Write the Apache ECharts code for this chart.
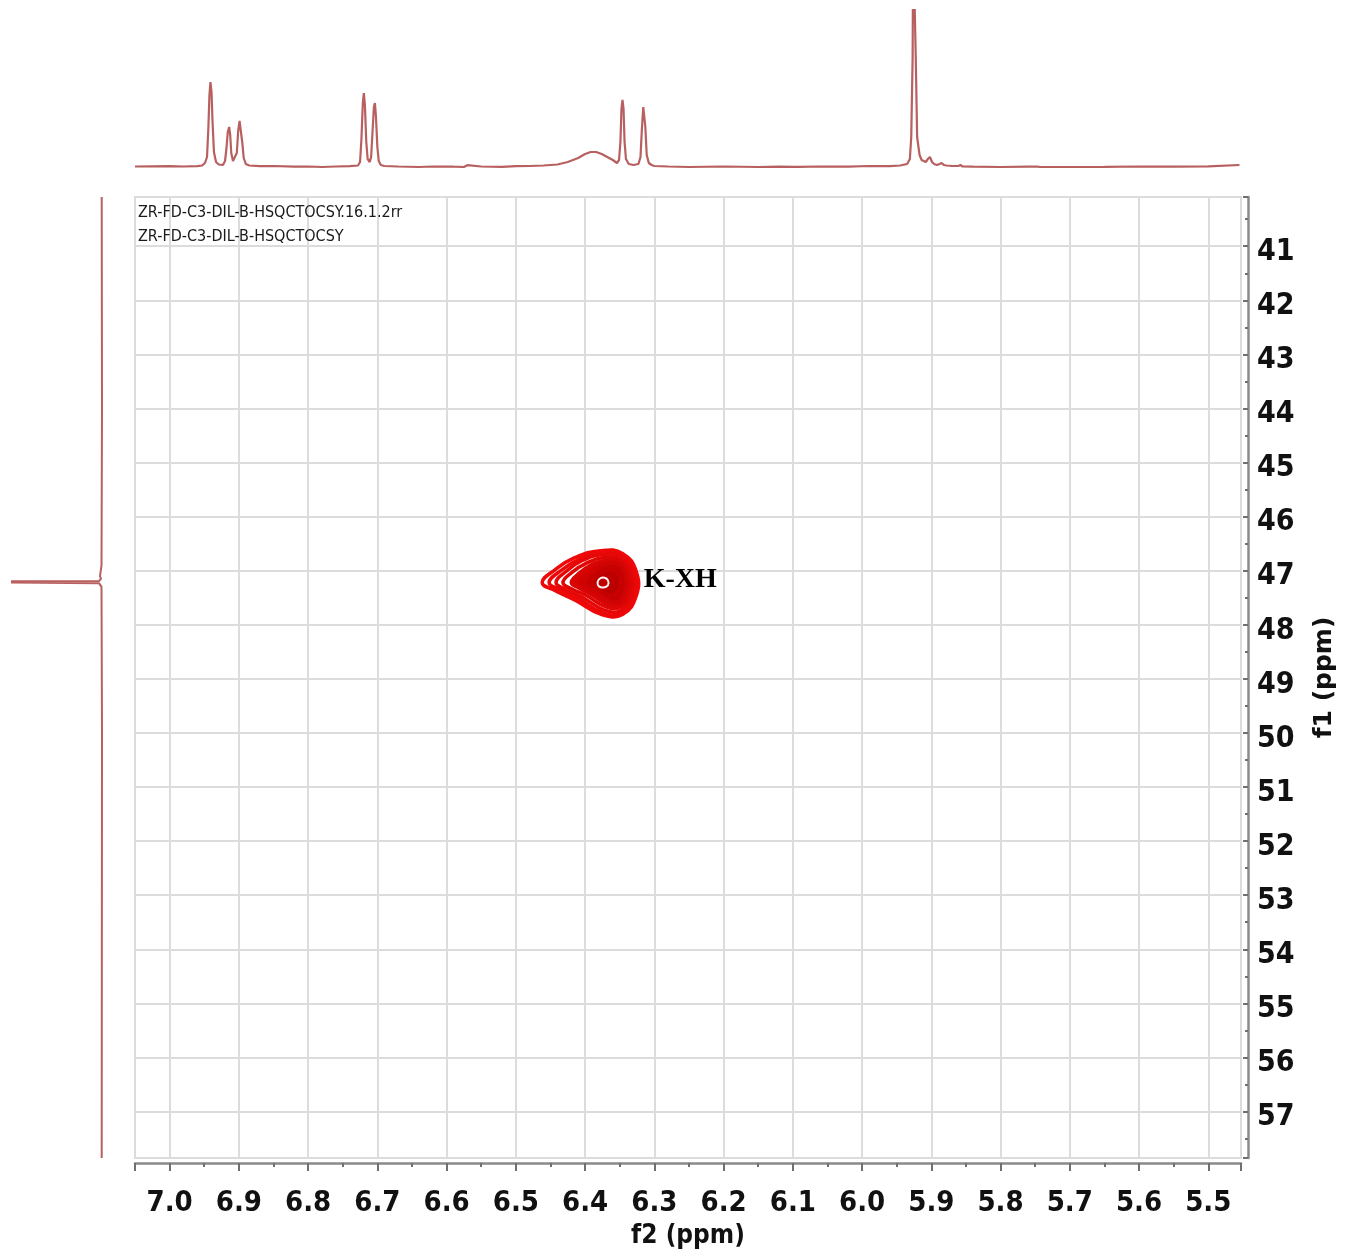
<!DOCTYPE html>
<html>
<head>
<meta charset="utf-8">
<title>HSQC-TOCSY</title>
<script src="https://cdn.jsdelivr.net/npm/echarts@6/dist/echarts.min.js"></script>
<style>
  html, body { margin: 0; padding: 0; background: #ffffff; }
  #chart { width: 1353px; height: 1253px; }
</style>
</head>
<body>
<div id="chart"></div>
<script>
// ---- axis ranges (ppm) ----
const f2Range = [5.4528, 7.05];   // 1H, drawn right-to-left
const f1Range = [40.09, 57.86];   // 13C, drawn top-to-bottom

// ---- dataset names printed in the plot corner ----
const dataNames = ['ZR-FD-C3-DIL-B-HSQCTOCSY.16.1.2rr', 'ZR-FD-C3-DIL-B-HSQCTOCSY'];

// ---- 1H projection trace: [ppm, intensity] ----
const protonTrace = [
  [7.050,0.5],[7.000,0.8],[6.980,0.5],[6.960,0.8],[6.953,1.5],[6.949,4],[6.946,10],[6.944,40],
  [6.9425,72],[6.941,85],[6.9395,75],[6.938,45],[6.936,15],[6.933,5],[6.929,2.5],[6.923,2],
  [6.920,6],[6.918,18],[6.916,35],[6.914,40],[6.9125,32],[6.911,14],[6.9085,6],[6.906,6],
  [6.903,14],[6.901,36],[6.899,46],[6.897,44],[6.895,24],[6.893,9],[6.890,3],[6.885,1.5],
  [6.870,0.8],[6.850,1],[6.820,0.3],[6.800,0.5],[6.780,0],[6.760,0.5],[6.740,0.8],[6.728,1.5],
  [6.725,5],[6.723,28],[6.721,64],[6.7195,74],[6.718,62],[6.716,25],[6.714,8],[6.711,5],
  [6.709,10],[6.707,35],[6.705,60],[6.7035,64],[6.702,50],[6.700,20],[6.698,6],[6.695,2],
  [6.690,1],[6.670,0.5],[6.640,0],[6.620,0.5],[6.600,0.3],[6.594,0.5],[6.592,2],[6.590,0.3],
  [6.575,0],[6.570,1.8],[6.568,0],[6.550,0.5],[6.520,0.2],[6.500,0.8],[6.480,1],[6.460,1.5],
  [6.440,2.5],[6.425,5],[6.410,9],[6.400,13],[6.392,15],[6.384,15],[6.376,13],[6.368,10],
  [6.360,7],[6.354,4],[6.351,7],[6.349,25],[6.3475,58],[6.346,67],[6.3445,58],[6.343,25],
  [6.341,8],[6.337,3],[6.330,2],[6.323,3],[6.320,10],[6.318,38],[6.316,60],[6.3145,62],
  [6.313,40],[6.311,12],[6.308,4],[6.304,2],[6.300,1],[6.280,0.5],[6.250,0],[6.200,0.5],
  [6.150,0],[6.120,0.3],[6.096,0.2],[6.094,1.8],[6.092,0.2],[6.060,0.5],[6.020,0.3],[5.990,1],
  [5.960,0.8],[5.945,1.5],[5.935,3],[5.931,8],[5.929,30],[5.927,110],[5.9262,230],[5.9238,230],
  [5.9225,110],[5.9205,30],[5.917,12],[5.914,7],[5.911,6],[5.908,5],[5.905,8],[5.902,10],
  [5.899,5],[5.896,3],[5.892,2],[5.888,3],[5.885,4],[5.882,2],[5.878,1.5],[5.870,1],[5.861,1],
  [5.858,2],[5.855,0.5],[5.840,0.3],[5.800,0],[5.760,0.3],[5.747,0.3],[5.745,2],[5.743,0],
  [5.700,0],[5.650,0.2],[5.600,0.5],[5.550,0.3],[5.500,0.6],[5.455,2]
];

// ---- 13C projection trace: [intensity, ppm] ----
const carbonTrace = [
  [0.3,40.09],[0,44.0],[0.5,46.90],[2,47.10],[1,47.15],[3,47.19],[200,47.205],
  [200,47.215],[3,47.23],[0.5,47.30],[0,50.0],[0.3,57.86]
];

// ---- cross-peak contour levels, outermost first: [f2 ppm, f1 ppm] ----
const contourLevels = [
  [[6.462,47.22],[6.443,46.98],[6.415,46.76],[6.378,46.63],[6.346,46.68],[6.326,47.02],
   [6.326,47.46],[6.346,47.81],[6.376,47.81],[6.415,47.54],[6.443,47.37]],
  [[6.452,47.22],[6.435,47.00],[6.409,46.79],[6.376,46.67],[6.347,46.72],[6.329,47.03],
   [6.329,47.44],[6.347,47.78],[6.374,47.78],[6.409,47.52],[6.435,47.36]],
  [[6.442,47.22],[6.427,47.01],[6.404,46.81],[6.374,46.70],[6.348,46.75],[6.332,47.04],
   [6.332,47.43],[6.348,47.73],[6.372,47.73],[6.404,47.49],[6.427,47.35]],
  [[6.432,47.22],[6.419,47.03],[6.398,46.86],[6.372,46.75],[6.349,46.80],[6.335,47.06],
   [6.335,47.40],[6.349,47.67],[6.370,47.67],[6.398,47.46],[6.419,47.34]],
  [[6.420,47.22],[6.409,47.05],[6.391,46.89],[6.369,46.80],[6.349,46.84],[6.338,47.08],
   [6.338,47.38],[6.349,47.62],[6.368,47.62],[6.391,47.44],[6.409,47.32]],
  [[6.409,47.22],[6.400,47.08],[6.385,46.94],[6.368,46.86],[6.351,46.89],[6.342,47.10],
   [6.342,47.36],[6.351,47.57],[6.366,47.57],[6.385,47.41],[6.400,47.31]],
  [[6.396,47.22],[6.389,47.10],[6.378,46.99],[6.365,46.93],[6.353,46.96],[6.346,47.12],
   [6.346,47.33],[6.353,47.50],[6.364,47.50],[6.378,47.37],[6.389,47.29]],
  [[6.386,47.22],[6.382,47.15],[6.375,47.08],[6.366,47.05],[6.359,47.06],[6.354,47.16],
   [6.354,47.29],[6.359,47.39],[6.366,47.39],[6.375,47.31],[6.382,47.26]],
  [[6.382,47.22],[6.379,47.15],[6.372,47.13],[6.367,47.18],[6.367,47.27],[6.373,47.31],
   [6.380,47.29]]
];

// ---- assignment label ----
const peakLabels = [{ name: 'K-XH', f2: 6.316, f1: 47.16 }];

// ---- contour drawing styles, one per level ----
const levelStroke = ['#f00808','#ec0808','#e60707','#e00606','#d80505','#cf0404','#c40202','#b80000','#fff2f2'];
const levelFill   = [null, null, null, null, '#dc0303', '#d20202', '#c80000', '#bf0000', null];
const levelWidth  = [3.5, 3.5, 3.5, 3.5, 3.5, 3, 3, 2.5, 2];

const narrow = "'Liberation Sans Narrow', 'DejaVu Sans Condensed', 'Arial Narrow', sans-serif";
const traceColor = '#ab4343';

const chart = echarts.init(document.getElementById('chart'), null, { renderer: 'canvas' });

chart.setOption({
  animation: false,
  backgroundColor: '#ffffff',
  title: {
    text: dataNames.join('\n'),
    left: 133,
    top: 196,
    textStyle: { fontFamily: narrow, fontSize: 16, fontWeight: 'normal', color: '#1a1a1a', lineHeight: 24 }
  },
  grid: [
    { left: 135, top: 197, width: 1106, height: 961, outerBoundsMode: 'none', containLabel: false,
      show: true, borderColor: '#dcdcdc', borderWidth: 2, backgroundColor: 'transparent' },
    { left: 135, top: 10, width: 1106, height: 162, outerBoundsMode: 'none', containLabel: false },
    { left: 12, top: 197, width: 92, height: 961, outerBoundsMode: 'none', containLabel: false }
  ],
  xAxis: [
    {
      type: 'value', gridIndex: 0, min: f2Range[0], max: f2Range[1], inverse: true, splitNumber: 16,
      position: 'bottom', offset: 5,
      axisLine: { show: true, onZero: false, lineStyle: { color: '#8a8a8a', width: 2.5 } },
      axisTick: { show: true, length: 8, lineStyle: { color: '#707070', width: 2 } },
      minorTick: { show: true, splitNumber: 2, length: 4, lineStyle: { color: '#707070', width: 2 } },
      axisLabel: {
        showMinLabel: false, showMaxLabel: false, margin: 26,
        fontFamily: narrow, fontWeight: 'bold', fontSize: 29, color: '#111',
        formatter: v => v.toFixed(1)
      },
      splitLine: { show: true, lineStyle: { color: '#dcdcdc', width: 2 } },
      name: 'f2 (ppm)', nameLocation: 'middle', nameGap: 50,
      nameTextStyle: { fontFamily: narrow, fontWeight: 'bold', fontSize: 26, color: '#111' }
    },
    { type: 'value', gridIndex: 1, min: f2Range[0], max: f2Range[1], inverse: true, show: false },
    { type: 'value', gridIndex: 2, min: -2, max: 90, inverse: true, show: false }
  ],
  yAxis: [
    {
      type: 'value', gridIndex: 0, min: f1Range[0], max: f1Range[1], inverse: true, splitNumber: 18,
      position: 'right', offset: 7,
      axisLine: { show: true, onZero: false, lineStyle: { color: '#8a8a8a', width: 2.5 } },
      axisTick: { show: true, inside: true, length: 5, lineStyle: { color: '#707070', width: 2 } },
      minorTick: { show: true, splitNumber: 2, length: 3, lineStyle: { color: '#707070', width: 2 } },
      axisLabel: {
        showMinLabel: false, showMaxLabel: false, margin: 9,
        formatter: v => '{n|' + Math.round(v) + '}',
        rich: {
          n: { fontFamily: narrow, fontWeight: 'bold', fontSize: 30, color: '#111', padding: [12, 0, 0, 0] }
        }
      },
      splitLine: { show: true, lineStyle: { color: '#dcdcdc', width: 2 } },
      name: 'f1 (ppm)', nameLocation: 'middle', nameGap: 64, nameRotate: 90,
      nameTextStyle: { fontFamily: "'DejaVu Sans', sans-serif", fontWeight: 'bold', fontSize: 25, color: '#111' }
    },
    { type: 'value', gridIndex: 1, min: -5, max: 157, show: false },
    { type: 'value', gridIndex: 2, min: f1Range[0], max: f1Range[1], inverse: true, show: false }
  ],
  series: [
    {
      name: '1H projection', type: 'line', xAxisIndex: 1, yAxisIndex: 1,
      data: protonTrace, showSymbol: false, clip: true,
      lineStyle: { color: traceColor, width: 2.2, opacity: 0.85 }
    },
    {
      name: '13C projection', type: 'line', xAxisIndex: 2, yAxisIndex: 2,
      data: carbonTrace, showSymbol: false, clip: true,
      lineStyle: { color: traceColor, width: 2, opacity: 0.85 }
    },
    {
      name: 'contours', type: 'custom', xAxisIndex: 0, yAxisIndex: 0,
      data: contourLevels.map(ring => [ring[0][0], ring[0][1]]),
      renderItem: function (params, api) {
        const i = params.dataIndex;
        const pts = contourLevels[i].map(p => api.coord(p));
        return {
          type: 'polygon',
          shape: { points: pts, smooth: 0.45 },
          style: {
            fill: levelFill[i] || 'none',
            stroke: levelStroke[i],
            lineWidth: levelWidth[i]
          }
        };
      },
      z: 3
    },
    {
      name: 'labels', type: 'scatter', xAxisIndex: 0, yAxisIndex: 0,
      data: peakLabels.map(d => ({ name: d.name, value: [d.f2, d.f1] })),
      symbolSize: 1, itemStyle: { color: 'transparent' },
      label: {
        show: true, position: 'right', distance: 0, formatter: '{b}', opacity: 1,
        fontFamily: "'Liberation Serif', 'DejaVu Serif', serif", fontWeight: 'bold', fontSize: 28, color: '#000'
      },
      emphasis: { disabled: true },
      z: 4
    }
  ]
});
</script>
</body>
</html>
